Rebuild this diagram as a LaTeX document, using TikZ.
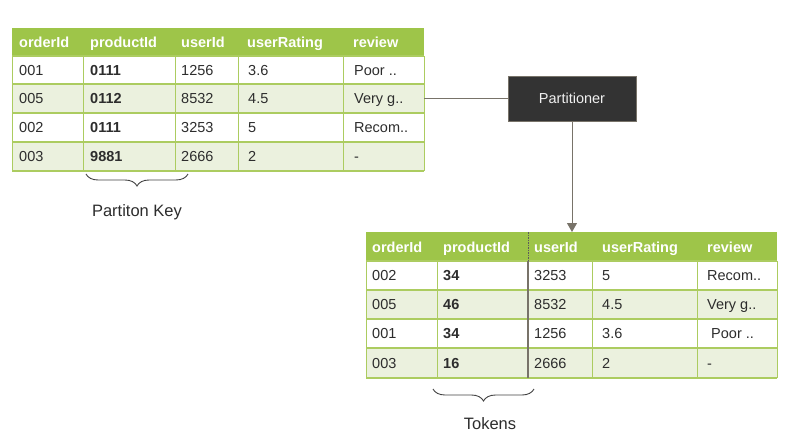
\documentclass[tikz,border=0pt]{standalone}
\usepackage{fontspec}
\setmainfont{Liberation Sans}
\usetikzlibrary{decorations.pathreplacing,arrows.meta}
\definecolor{hdr}{RGB}{158,197,73}
\definecolor{alt}{RGB}{235,241,222}
\definecolor{grid}{RGB}{172,204,96}
\definecolor{txt}{RGB}{45,45,45}
\definecolor{boxc}{RGB}{51,51,51}
\definecolor{conn}{RGB}{120,115,105}
\begin{document}
\begin{tikzpicture}[x=1pt,y=-1pt,
  cell/.style={anchor=base west,inner sep=0pt,text=txt,font=\fontsize{14.5}{17}\selectfont},
  keycell/.style={cell,font=\fontsize{14.5}{17}\selectfont\bfseries},
  hcell/.style={anchor=base west,inner sep=0pt,text=white,font=\fontsize{14.5}{17}\selectfont\bfseries},
  hline/.style={draw=grid,line width=1.6pt},
  vline/.style={draw=grid,line width=0.9pt},
  brc/.style={draw=txt!90,line width=0.9pt,decorate,decoration={brace,mirror,amplitude=12pt}},
  lbl/.style={text=txt,font=\fontsize{16.5}{19}\selectfont,inner sep=0pt},
  conline/.style={draw=conn,line width=1pt}]
\useasboundingbox (0,0) rectangle (790,442);
\fill[white] (0,0) rectangle (790,442);

% ---------- Table A ----------
\fill[hdr] (12,28) rectangle (424,56);
\fill[alt] (12,84) rectangle (424,113);
\fill[alt] (12,142) rectangle (424,171);
\foreach \y in {56,84,113,142,171} \draw[hline] (12,\y) -- (424,\y);
\foreach \x in {83,175,238,343} \draw[vline] (\x,56) -- (\x,171);
\draw[vline] (12,56) -- (12,171);
\draw[vline] (424,56) -- (424,171);
\node (tabA) [inner sep=0pt,minimum width=412pt,minimum height=143pt,anchor=north west] at (12,28) {};

\foreach \t/\x [count=\j] in {orderId/19,productId/90,userId/181,userRating/247,review/353}
  \node[hcell] (ah\j) at (\x,47) {\t};

\foreach \a/\b/\c/\d/\e/\yc [count=\i] in {001/0111/1256/3.6/Poor ../70,005/0112/8532/4.5/Very g../98.5,002/0111/3253/5/Recom../127.5,003/9881/2666/2/-/156.5}{
  \node[cell] (a\i c1) at (19,\yc+5.2) {\a};
  \node[keycell] (a\i c2) at (90,\yc+5.2) {\b};
  \node[cell] (a\i c3) at (181,\yc+5.2) {\c};
  \node[cell] (a\i c4) at (248,\yc+5.2) {\d};
  \node[cell] (a\i c5) at (354,\yc+5.2) {\e};
}

% ---------- Table B ----------
\fill[hdr] (366,232) rectangle (777,261);
\fill[alt] (366,290) rectangle (777,319);
\fill[alt] (366,348) rectangle (777,378);
\foreach \y in {261,290,319,348,378} \draw[hline] (366,\y) -- (777,\y);
\foreach \x in {437,592,697} \draw[vline] (\x,261) -- (\x,378);
\draw[vline] (366,261) -- (366,378);
\draw[vline] (777,261) -- (777,378);
\draw[draw=boxc!80,line width=0.9pt,dash pattern=on 1.5pt off 1pt] (528,232) -- (528,261);
\draw[draw=conn,line width=1.2pt] (528,261) -- (528,378);
\node (tabB) [inner sep=0pt,minimum width=411pt,minimum height=146pt,anchor=north west] at (366,232) {};

\foreach \t/\x [count=\j] in {orderId/372,productId/443,userId/534,userRating/602,review/707}
  \node[hcell] (bh\j) at (\x,252) {\t};

\foreach \a/\b/\c/\d/\e/\yc [count=\i] in {002/34/3253/5/Recom../275.5,005/46/8532/4.5/Very g../304.5,001/34/1256/3.6/{\ Poor ..}/333.5,003/16/2666/2/-/363}{
  \node[cell] (b\i c1) at (372,\yc+5.2) {\a};
  \node[keycell] (b\i c2) at (443,\yc+5.2) {\b};
  \node[cell] (b\i c3) at (534,\yc+5.2) {\c};
  \node[cell] (b\i c4) at (602,\yc+5.2) {\d};
  \node[cell] (b\i c5) at (707,\yc+5.2) {\e};
}

% ---------- Partitioner ----------
\node (part) [fill=boxc,draw=conn,line width=0.6pt,minimum width=128pt,minimum height=45pt,inner sep=0pt,
  text={rgb,255:red,240;green,240;blue,240},font=\fontsize{14.5}{17}\selectfont] at (572,98.5) {Partitioner};

\draw[conline] (tabA.east |- part.west) -- (part.west);
\draw[conline,-{Triangle[width=10pt,length=9pt]}] (part.south) -- (tabB.north -| part.south);

% ---------- Braces ----------
\coordinate (bA1) at (86,174);
\coordinate (bA2) at (188,174);
\draw[brc] (bA1) -- (bA2);
\node[lbl] (keylbl) at (137,212) {Partiton Key};

\coordinate (bB1) at (433,389);
\coordinate (bB2) at (534,389);
\draw[brc] (bB1) -- (bB2);
\node[lbl] (toklbl) at (490,424) {Tokens};
\end{tikzpicture}
\end{document}
